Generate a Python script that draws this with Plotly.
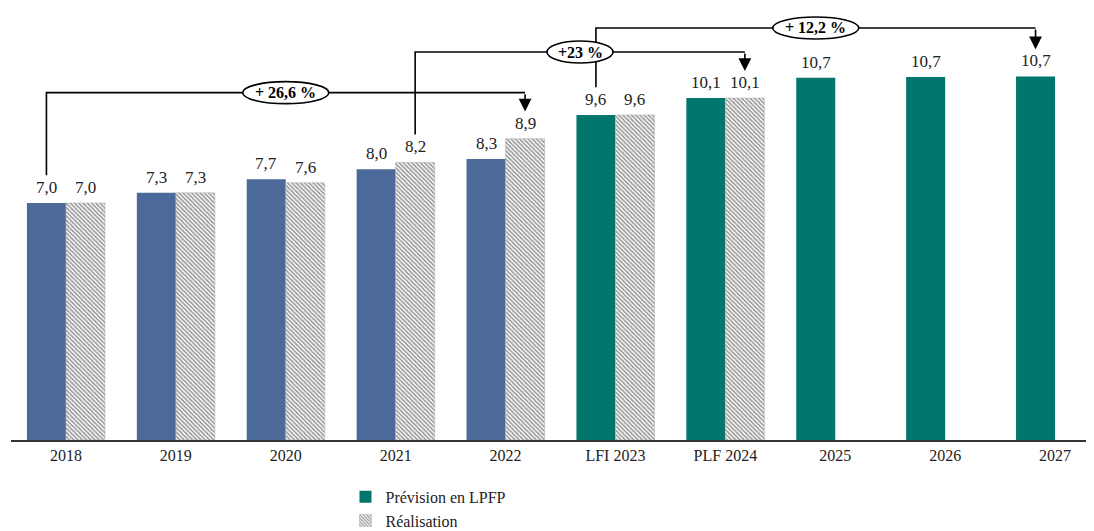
import plotly.graph_objects as go

categories = ["2018", "2019", "2020", "2021", "2022", "LFI 2023", "PLF 2024", "2025", "2026", "2027"]
prevision = [7.0, 7.3, 7.7, 8.0, 8.3, 9.6, 10.1, 10.7, 10.72, 10.74]
realisation = [7.0, 7.3, 7.6, 8.2, 8.9, 9.6, 10.1, None, None, None]
n_past = 5  # first five categories drawn in blue

# brackets: (from index, from series, to index, to series, label)
brackets = [
    (0, "prev", 4, "real", "+ 26,6 %"),
    (3, "real", 6, "real", "+23 %"),
    (5, "prev", 9, "prev", "+ 12,2 %"),
]
bracket_levels = [10.26, 11.46, 12.17]

BLUE = "#4b6999"
TEAL = "#00766c"
FONT = "Liberation Serif"

def fmt(v):
    return "" if v is None else f"{v:.1f}".replace(".", ",")

prev_blue = [v if i < n_past else None for i, v in enumerate(prevision)]
prev_teal = [v if i >= n_past else None for i, v in enumerate(prevision)]

fig = go.Figure()
fig.add_trace(go.Bar(
    x=categories, y=prev_blue, offsetgroup="a", name="Prévision en LPFP",
    marker=dict(color=BLUE, line=dict(width=0)), showlegend=False,
))
fig.add_trace(go.Bar(
    x=categories, y=prev_teal, offsetgroup="a", name="Prévision en LPFP",
    marker=dict(color=TEAL, line=dict(width=0)),
))
fig.add_trace(go.Bar(
    x=categories, y=realisation, offsetgroup="b", name="Réalisation",
    marker=dict(color="white", line=dict(width=0.5, color="#aaaaaa"),
                pattern=dict(shape="\\", fgcolor="#333333", bgcolor="white", size=3, solidity=0.55)),
))

gap = 0.29
half = (1 - gap) / 4  # offset from category center to each bar center

def xpos(i, s):
    return i - half if s == "prev" else i + half

def val(i, s):
    return prevision[i] if s == "prev" else realisation[i]

shapes = []
annotations = []

# value labels
for i in range(len(categories)):
    for s in ("prev", "real"):
        v = val(i, s)
        if v is None:
            continue
        annotations.append(dict(x=xpos(i, s), y=v, xref="x", yref="y", text=fmt(v),
                                showarrow=False, yanchor="bottom", yshift=4,
                                font=dict(family=FONT, size=17, color="#222")))

for (i0, s0, i1, s1, lab), lvl in zip(brackets, bracket_levels):
    x0, x1 = xpos(i0, s0), xpos(i1, s1)
    y0 = val(i0, s0) + 0.82
    ytip = val(i1, s1) + 0.8
    shapes.append(dict(type="path", xref="x", yref="y",
                       path=f"M {x0},{y0} L {x0},{lvl} L {x1},{lvl}",
                       line=dict(color="black", width=1.6)))
    annotations.append(dict(x=x1, y=ytip, xref="x", yref="y", ax=x1, ay=lvl,
                            axref="x", ayref="y", text="", showarrow=True,
                            arrowhead=2, arrowsize=1.6, arrowwidth=1.6, arrowcolor="black"))
for (i0, s0, i1, s1, lab), lvl in zip(brackets, bracket_levels):
    xm = (xpos(i0, s0) + xpos(i1, s1)) / 2
    w = 43 if len(lab) > 6 else 33
    shapes.append(dict(type="circle", xref="x", yref="y", xsizemode="pixel", ysizemode="pixel",
                       xanchor=xm, yanchor=lvl, x0=-w, x1=w, y0=-11, y1=11,
                       fillcolor="white", line=dict(color="black", width=1.6)))
    annotations.append(dict(x=xm, y=lvl, xref="x", yref="y", text=f"<b>{lab}</b>",
                            showarrow=False, font=dict(family=FONT, size=16, color="black")))

fig.update_layout(
    barmode="group", bargap=gap, bargroupgap=0,
    width=1086, height=523,
    margin=dict(l=3, r=4, t=0, b=91, autoexpand=False),
    plot_bgcolor="white", paper_bgcolor="white",
    shapes=shapes, annotations=annotations,
    xaxis=dict(type="category", range=[-0.5, 9.318], showline=True, linecolor="#333333",
               linewidth=1.5, ticks="", showgrid=False, automargin=False,
               tickfont=dict(family=FONT, size=16, color="#222")),
    yaxis=dict(range=[0, 12.76], visible=False, showgrid=False, automargin=False),
    legend=dict(x=0.31, y=-0.092, xanchor="left", yanchor="top", orientation="v",
                font=dict(family=FONT, size=16, color="#222"), tracegroupgap=0,
                itemwidth=30),
    showlegend=True,
)

fig.write_html("out.html")
